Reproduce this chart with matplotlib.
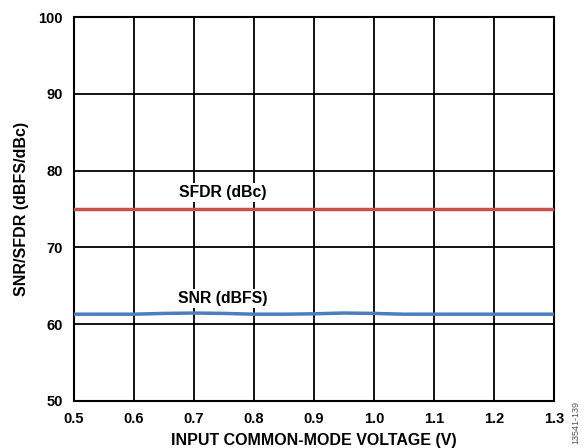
import matplotlib
matplotlib.use("Agg")
import matplotlib.pyplot as plt

x_sfdr = [0.5, 0.6, 0.7, 0.8, 0.9, 1.0, 1.1, 1.2, 1.3]
sfdr = [75.0, 75.0, 75.0, 75.0, 75.0, 75.0, 75.0, 75.0, 75.0]
x_snr = [0.5, 0.55, 0.6, 0.65, 0.7, 0.75, 0.8, 0.85, 0.9, 0.95, 1.0, 1.05, 1.1, 1.15, 1.2, 1.25, 1.3]
snr = [61.3, 61.3, 61.3, 61.4, 61.45, 61.4, 61.3, 61.3, 61.35, 61.45, 61.4, 61.3, 61.3, 61.3, 61.3, 61.3, 61.3]
xticks = [0.5, 0.6, 0.7, 0.8, 0.9, 1.0, 1.1, 1.2, 1.3]
yticks = [50, 60, 70, 80, 90, 100]

plt.rcParams['font.family'] = ['Liberation Sans', 'DejaVu Sans']
fig = plt.figure(figsize=(5.85, 4.48), dpi=100)
ax = fig.add_axes([0.1265, 0.105, 0.8205, 0.857])

ax.plot(x_sfdr, sfdr, color='#c8504f', lw=2.5, zorder=3)
ax.plot(x_snr, snr, color='#4a7ebf', lw=2.5, zorder=3)

ax.set_xlim(0.5, 1.3)
ax.set_ylim(50, 100)
ax.set_xticks(xticks)
ax.set_xticklabels([f"{v:.1f}" for v in xticks])
ax.set_yticks(yticks)
ax.grid(True, color='black', lw=1.3)
for s in ax.spines.values():
    s.set_linewidth(1.5)
ax.tick_params(length=0, labelsize=10.5, pad=8)
for lab in ax.get_xticklabels() + ax.get_yticklabels():
    lab.set_fontweight('bold')

ax.set_xlabel('INPUT COMMON-MODE VOLTAGE (V)', fontsize=11.5, fontweight='bold', labelpad=5)
ax.set_ylabel('SNR/SFDR (dBFS/dBc)', fontsize=11.5, fontweight='bold', labelpad=7)

bbox = dict(facecolor='white', edgecolor='none', pad=1.5)
ax.text(0.748, 77.2, 'SFDR (dBc)', ha='center', va='center', fontsize=11.3, fontweight='bold', bbox=bbox, zorder=4)
ax.text(0.748, 63.4, 'SNR (dBFS)', ha='center', va='center', fontsize=11.3, fontweight='bold', bbox=bbox, zorder=4)

fig.text(0.984, 0.01, '13541-139', rotation=90, fontsize=6.5, color='#555555', ha='center', va='bottom')

fig.savefig('out.png', dpi=100)
